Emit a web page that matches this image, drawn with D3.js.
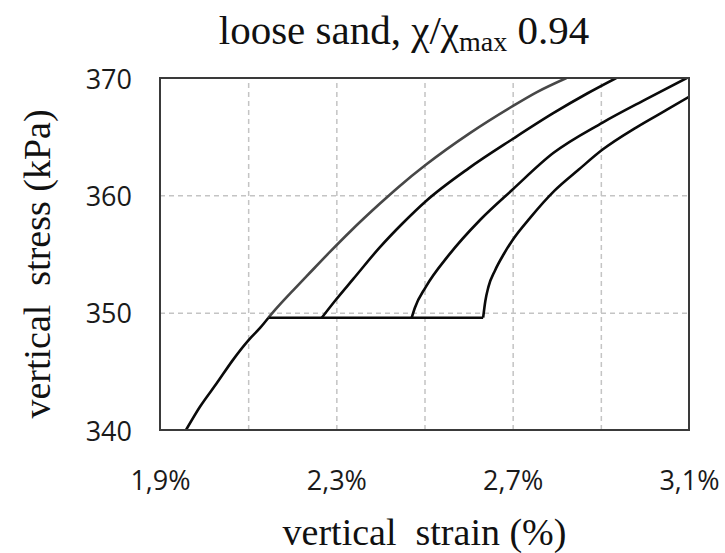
<!DOCTYPE html>
<html>
<head>
<meta charset="utf-8">
<script src="https://cdn.jsdelivr.net/npm/d3@7"></script>
<style>
  body { margin: 0; background: #fff; }
  .tick text { font-family: "Open Sans", sans-serif; font-size: 27px; fill: #1a1a1a; }
  .serif, .serif tspan { font-family: "Liberation Serif", "DejaVu Serif", serif; fill: #111; }
</style>
</head>
<body>
<script>
//stress-strain chart, loose sand
(function(){

//tick values
var strainTicks = [1.9, 2.3, 2.7, 3.1];
var stressTicks = [340, 350, 360, 370];
var strainGrid = [2.1, 2.3, 2.5, 2.7, 2.9];
var stressGrid = [350, 360];

//curves: [strain %, stress kPa]
var loading = [[1.959, 340], [1.991, 342.0], [2.029, 344.0], [2.066, 346.0],
    [2.102, 347.7], [2.127, 348.7], [2.146, 349.57]];
var curve1 = [[2.146, 349.57], [2.165, 350.4], [2.202, 351.9], [2.240, 353.4],
    [2.286, 355.2], [2.331, 356.9], [2.399, 359.3], [2.444, 360.8], [2.503, 362.6],
    [2.603, 365.3], [2.700, 367.6], [2.755, 368.8], [2.822, 370]];
var creep = [[2.146, 349.57], [2.633, 349.57]];
var curve2 = [[2.267, 349.57], [2.299, 351.1], [2.339, 352.9], [2.397, 355.5],
    [2.450, 357.6], [2.503, 359.5], [2.600, 362.3], [2.700, 364.8], [2.792, 367.0],
    [2.870, 368.7], [2.935, 370]];
var curve3 = [[2.471, 349.57], [2.478, 350.4], [2.503, 352.2], [2.555, 354.9],
    [2.626, 357.9], [2.700, 360.5], [2.792, 363.6], [2.904, 366.2], [3.003, 368.2],
    [3.095, 370]];
var curve4 = [[2.633, 349.57], [2.638, 351.0], [2.645, 352.2], [2.660, 353.6],
    [2.680, 355.0], [2.700, 356.2], [2.740, 358.1], [2.795, 360.4], [2.850, 362.2],
    [2.904, 363.9], [2.981, 365.8], [3.050, 367.3], [3.1, 368.4]];

var series = [
    {data: loading, color: "#0a0a0a"},
    {data: curve1, color: "#474747"},
    {data: creep, color: "#0a0a0a"},
    {data: curve2, color: "#0a0a0a"},
    {data: curve3, color: "#0a0a0a"},
    {data: curve4, color: "#0a0a0a"}
];

var width = 725,
    height = 553;
var margin = {top: 78, right: 36, bottom: 123, left: 160};
var w = width - margin.left - margin.right,
    h = height - margin.top - margin.bottom;

var svg = d3.select("body")
    .append("svg")
    .attr("width", width)
    .attr("height", height);

var x = d3.scaleLinear().domain([1.9, 3.1]).range([0, w]);
var y = d3.scaleLinear().domain([340, 370]).range([h, 0]);

var g = svg.append("g")
    .attr("transform", "translate(" + margin.left + "," + margin.top + ")");

//gridlines
var gx = g.append("g")
    .attr("transform", "translate(0," + h + ")")
    .call(d3.axisBottom(x).tickValues(strainGrid).tickSize(-h).tickFormat(""));
var gy = g.append("g")
    .call(d3.axisLeft(y).tickValues(stressGrid).tickSize(-w).tickFormat(""));
[gx, gy].forEach(function(a){
    a.select(".domain").remove();
    a.selectAll("line")
        .attr("stroke", "#c4c4c4")
        .attr("stroke-width", 1.5)
        .attr("stroke-dasharray", "5,4");
});

//curves
svg.append("clipPath").attr("id", "clip")
    .append("rect").attr("width", w).attr("height", h);

var line = d3.line()
    .x(function(d){ return x(d[0]); })
    .y(function(d){ return y(d[1]); })
    .curve(d3.curveMonotoneX);

g.append("g")
    .attr("clip-path", "url(#clip)")
    .selectAll("path")
    .data(series)
    .enter()
    .append("path")
    .attr("d", function(d){ return line(d.data); })
    .attr("fill", "none")
    .attr("stroke", function(d){ return d.color; })
    .attr("stroke-width", 2.6)
    .attr("stroke-linejoin", "round");

//frame
g.append("rect")
    .attr("width", w)
    .attr("height", h)
    .attr("fill", "none")
    .attr("stroke", "#3a3a3a")
    .attr("stroke-width", 2);

//tick labels
var ax = g.append("g")
    .attr("transform", "translate(0," + h + ")")
    .call(d3.axisBottom(x).tickValues(strainTicks).tickSize(0)
        .tickFormat(function(d){ return d.toFixed(1).replace(".", ",") + "%"; }));
ax.select(".domain").remove();
ax.selectAll("text").attr("y", 60).attr("dy", 0);

var ay = g.append("g")
    .call(d3.axisLeft(y).tickValues(stressTicks).tickSize(0).tickPadding(28));
ay.select(".domain").remove();
ay.selectAll("text").attr("dy", 10);

//titles
var title = svg.append("text")
    .attr("class", "serif")
    .attr("x", 404)
    .attr("y", 44)
    .attr("text-anchor", "middle")
    .style("font-size", "41px");
title.append("tspan").text("loose sand, ");
title.append("tspan").text("\u03c7/\u03c7");
title.append("tspan").attr("dy", 7).style("font-size", "28px").text("max");
title.append("tspan").attr("dy", -7).text(" 0.94");

svg.append("text")
    .attr("class", "serif")
    .attr("x", margin.left + w / 2)
    .attr("y", 545)
    .attr("text-anchor", "middle")
    .style("font-size", "38px")
    .style("white-space", "pre")
    .attr("xml:space", "preserve")
    .text("vertical  strain (%)");

svg.append("text")
    .attr("class", "serif")
    .attr("transform", "translate(50,264) rotate(-90)")
    .attr("text-anchor", "middle")
    .style("font-size", "38px")
    .style("white-space", "pre")
    .attr("xml:space", "preserve")
    .text("vertical  stress (kPa)");

})();
</script>
</body>
</html>
